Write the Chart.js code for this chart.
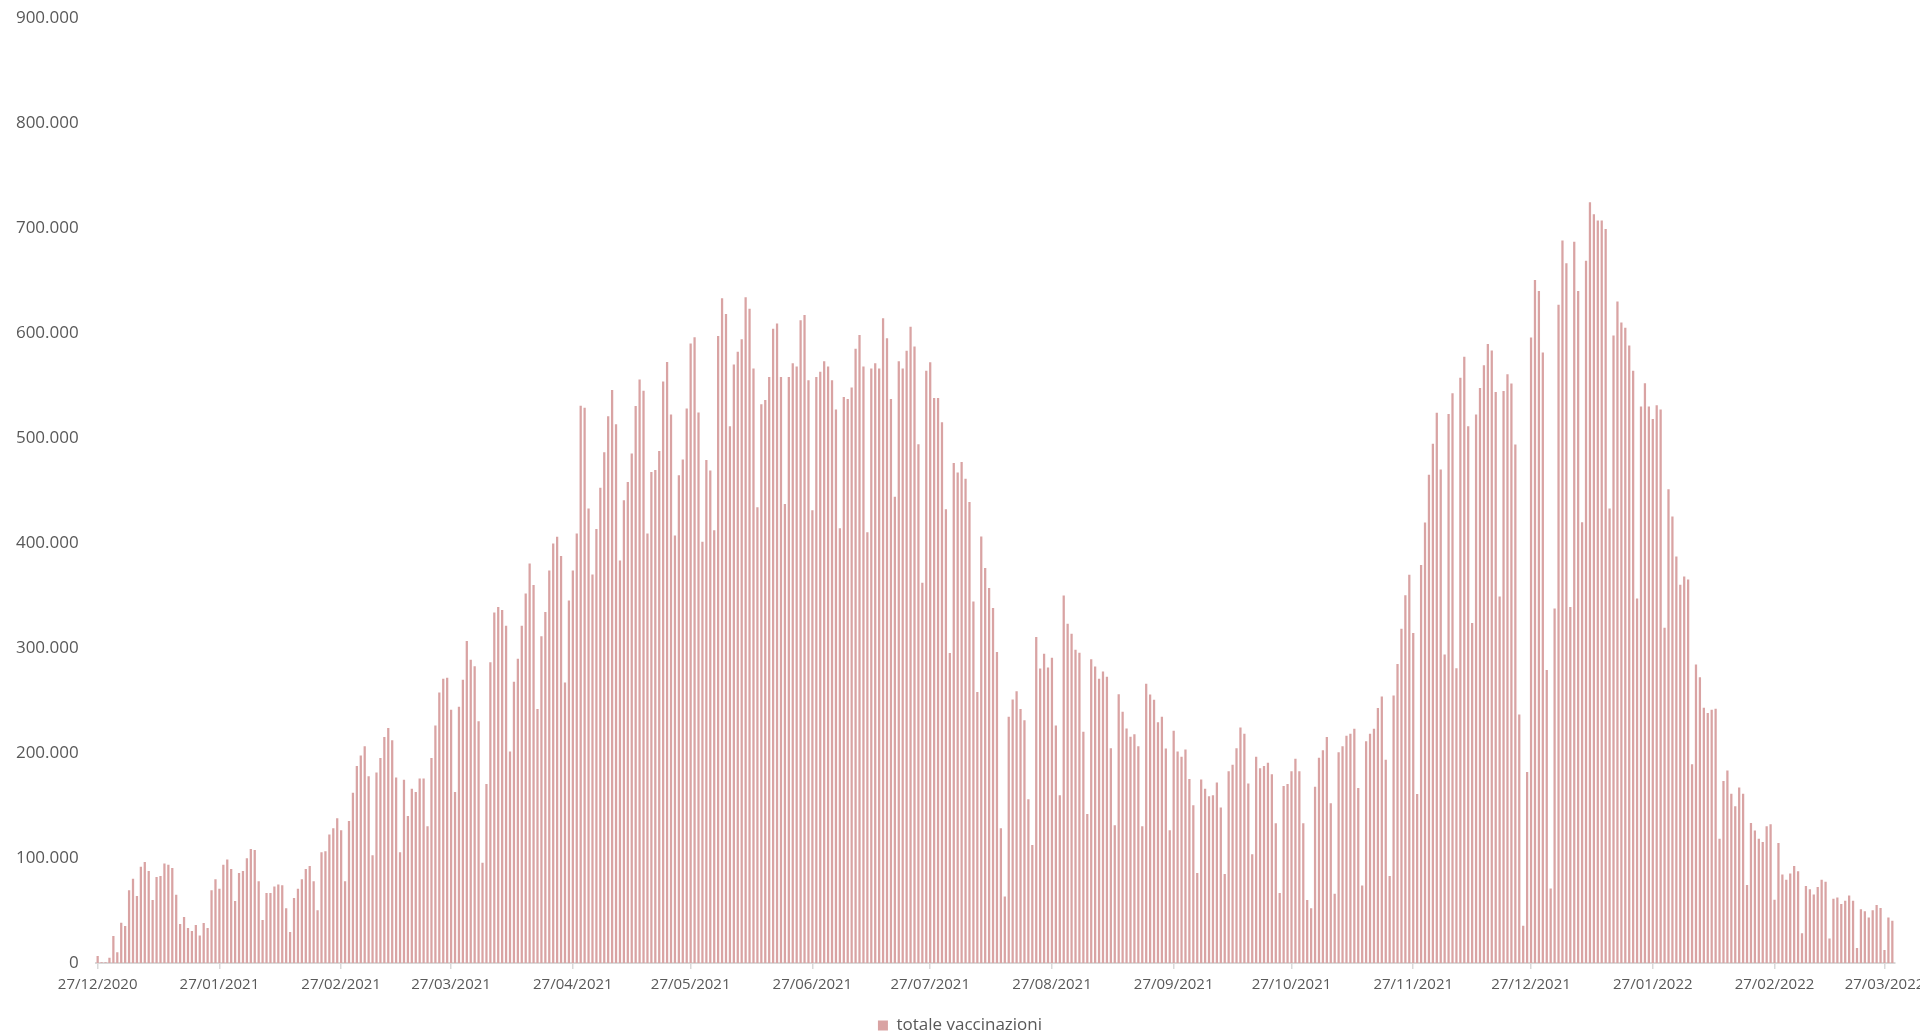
<!DOCTYPE html>
<html>
<head>
<meta charset="utf-8">
<script src="https://cdn.jsdelivr.net/npm/chart.js@4.4.1/dist/chart.umd.min.js"></script>
<style>
  html, body { margin: 0; padding: 0; background: #ffffff; }
  #wrap { width: 1920px; height: 1034px; }
</style>
</head>
<body>
<div id="wrap"><canvas id="c" width="1920" height="1034"></canvas></div>
<script>
// ---- DATA ----
const seriesLabel = 'totale vaccinazioni';
const firstDay = '27/12/2020';
const dayCount = 458; // 27/12/2020 .. 29/03/2022

const tickLabels = ['27/12/2020','27/01/2021','27/02/2021','27/03/2021','27/04/2021','27/05/2021',
  '27/06/2021','27/07/2021','27/08/2021','27/09/2021','27/10/2021','27/11/2021','27/12/2021',
  '27/01/2022','27/02/2022','27/03/2022'];

const yTicks = [0,100000,200000,300000,400000,500000,600000,700000,800000,900000];

// daily values
const valuesDec2020Jan2021 = [6400,500,500,4800,25400,10000,38000,35000,69000,80000,63600,91500,96000,87400,59800,81700,82600,94400,93400,90300,64800,36900,43600,33000,30200,36000,26000,37800,33000,69000,79500,70500,93400,98200,89300,58800,85500,87400,99500];
const valuesFeb2021 = [108400,107400,77500,40700,66400,66400,72500,74400,73700,51800,29200,61700,70500,79400,89300,92200,77500,49900,105200,106100,122000,128000,137600,126200,77500,135000,161800,187500,197400,206300,177600,102300,181100,195100,215100,223700,212000,176400];
const valuesMar2021 = [105200,174200,139800,165600,162700,175400,175400,130000,195100,226000,257400,270400,271400,240900,162700,243800,269500,306400,288600,282500,230100,95300,170300,286300,333700,338800,335900,321000,201200,267600,289500,321000,351800,380400,359800,241800,311100,334000,373600];
const valuesApr2021 = [399400,405900,387500,266900,345000,373700,408900,530700,528800,432700,369900,413100,452600,486300,520700,545600,513100,383300,440700,457900,485100,530300,555600,544900,408900,467500,469400,487400,553700,572400,522300,407000,464400,479400,528000,590000,596000,524200];
const valuesMay2021 = [401000,479000,469000,412000,597000,633000,618000,511000,570000,582000,594000,634000,623000,566000,434000,532000,536000,558000,604000,609000,558000,437000,558000,571000,568000,612000,617000,555000,431000,558000,563000,573000,568000,555000,527000,414000,539000,537000,548000];
const valuesJul2021 = [585000,598000,568000,410000,566000,571000,566000,614000,595000,537000,444000,573000,566000,583000,606000,587000,494000,362000,564000,572000,538000,538000,515000,432000,295000,476000,467000,477000,461000,439000,344000,258000,406000,376000,357000,338000,296000,128000,63000];
const valuesAug2021 = [234200,250700,258700,241800,231000,155700,112200,310200,280300,294300,281300,290500,226000,159500,349900,322900,313300,298100,295200,219900,141700,289200,282200,270400,277400,272400,204300,130900,255800,239000,223100,215200,217700,206300,130000,265700,255500,250400,229100];
const valuesSep2021 = [234200,204000,126200,220900,201200,196100,203100,175100,150000,85500,174500,165600,158600,159500,171600,147800,84500,182400,188500,204300,224000,218000,170700,103300,196100,185300,187500,190400,179600,132800,66400,168400,170300,182400,194200,182400,132800,59700];
const valuesNov2021 = [51800,167600,195200,202300,215000,151800,65600,200400,206300,216200,218200,222900,166400,73500,211000,218200,222900,242700,253700,193300,82600,254500,284500,318100,350100,369500,314200,160800,379000,419300,464800,494400,524000,469900,293600,522800,542600,280600,557200];
const valuesDec2021 = [577400,511100,323600,522200,547600,569300,589400,583200,543800,349000,544700,560600,551900,493700,236500,35100,181700,595700,650500,640000,581300,278900,70700,337500,626900,688000,666400,338900,687000,640000,419700,668800,724500,713000,707200,707200,699100,432700,597600];
const valuesJan2022 = [630000,610000,605000,588000,564000,347000,530000,552000,530000,518000,531000,527000,319000,451000,425000,387000,360000,368000,365000,189000,284000,272000,243000,238000,241000,242000,118000,173000,183000,161000,149000,167000,161000,74000,133000,126000,118000,115000];
const valuesFeb2022 = [130000,132000,60000,114000,84000,79000,85000,92000,87000,28000,73000,70000,65000,72000,79000,77000,23000,61000,62000,56000,59000,64000,59000,14000,51000,49000,43000,50000,55000,52000,12000,43000,40000];

const values = [].concat(valuesDec2020Jan2021, valuesFeb2021, valuesMar2021, valuesApr2021,
  valuesMay2021, valuesJul2021, valuesAug2021, valuesSep2021, valuesNov2021, valuesDec2021,
  valuesJan2022, valuesFeb2022);

// ---- categories (one per day) ----
function pad(n) { return (n < 10 ? '0' : '') + n; }
const categories = [];
(function () {
  const p = firstDay.split('/').map(Number);
  const d0 = Date.UTC(p[2], p[1] - 1, p[0]);
  for (let i = 0; i < dayCount; i++) {
    const d = new Date(d0 + i * 86400000);
    categories.push(pad(d.getUTCDate()) + '/' + pad(d.getUTCMonth() + 1) + '/' + d.getUTCFullYear());
  }
})();

// ---- STYLE ----
const barColor = '#d9a3a3';
const textColor = '#595959';
const axisColor = '#d9d9d9';
const fontFamily = "'Open Sans', 'Liberation Sans', sans-serif";

function fmt(v) {
  if (v === 0) return '0';
  return String(Math.round(v / 1000)) + '.000';
}

function draw() {
  new Chart(document.getElementById('c'), {
    type: 'bar',
    data: {
      labels: categories,
      datasets: [{
        label: seriesLabel,
        data: values,
        backgroundColor: barColor,
        borderWidth: 0,
        barThickness: 1.6
      }]
    },
    options: {
      responsive: false,
      devicePixelRatio: 1,
      animation: false,
      layout: { padding: { left: 0, right: 0, top: 18.4, bottom: -10 } },
      plugins: {
        legend: {
          position: 'bottom',
          labels: {
            boxWidth: 10, boxHeight: 10, padding: 3,
            color: textColor,
            font: { family: fontFamily, size: 17 }
          }
        },
        tooltip: { enabled: false }
      },
      scales: {
        x: {
          offset: true,
          grid: {
            offset: false,
            drawOnChartArea: false,
            drawTicks: true,
            tickLength: 6,
            lineWidth: 1.5,
            color: (ctx) => (ctx.index !== undefined && tickLabels.includes(categories[ctx.index])) ? axisColor : 'rgba(0,0,0,0)'
          },
          border: { display: true, color: axisColor, width: 2 },
          ticks: {
            autoSkip: false,
            maxRotation: 0,
            minRotation: 0,
            padding: 6.5,
            color: textColor,
            font: { family: fontFamily, size: 15 },
            callback: (v, i) => tickLabels.includes(categories[i]) ? categories[i] : ''
          },
          afterFit: (s) => { s.height = 51; }
        },
        y: {
          min: 0,
          max: 900000,
          afterBuildTicks: (s) => { s.ticks = yTicks.map(v => ({ value: v })); },
          grid: { display: false, drawTicks: true, tickLength: 17 },
          border: { display: false },
          ticks: {
            padding: 0,
            color: textColor,
            font: { family: fontFamily, size: 17 },
            callback: (v) => fmt(v)
          },
          afterFit: (s) => { s.width = 95.7; }
        },
        spacerRight: {
          position: 'right',
          min: 0,
          max: 1,
          grid: { display: false, drawTicks: false },
          border: { display: false },
          ticks: { display: false, padding: 0 },
          afterFit: (s) => { s.width = 25.7; }
        }
      }
    }
  });
}

if (document.fonts && document.fonts.load) {
  document.fonts.load("15px 'Open Sans'").then(draw, draw);
} else {
  draw();
}
</script>
</body>
</html>
